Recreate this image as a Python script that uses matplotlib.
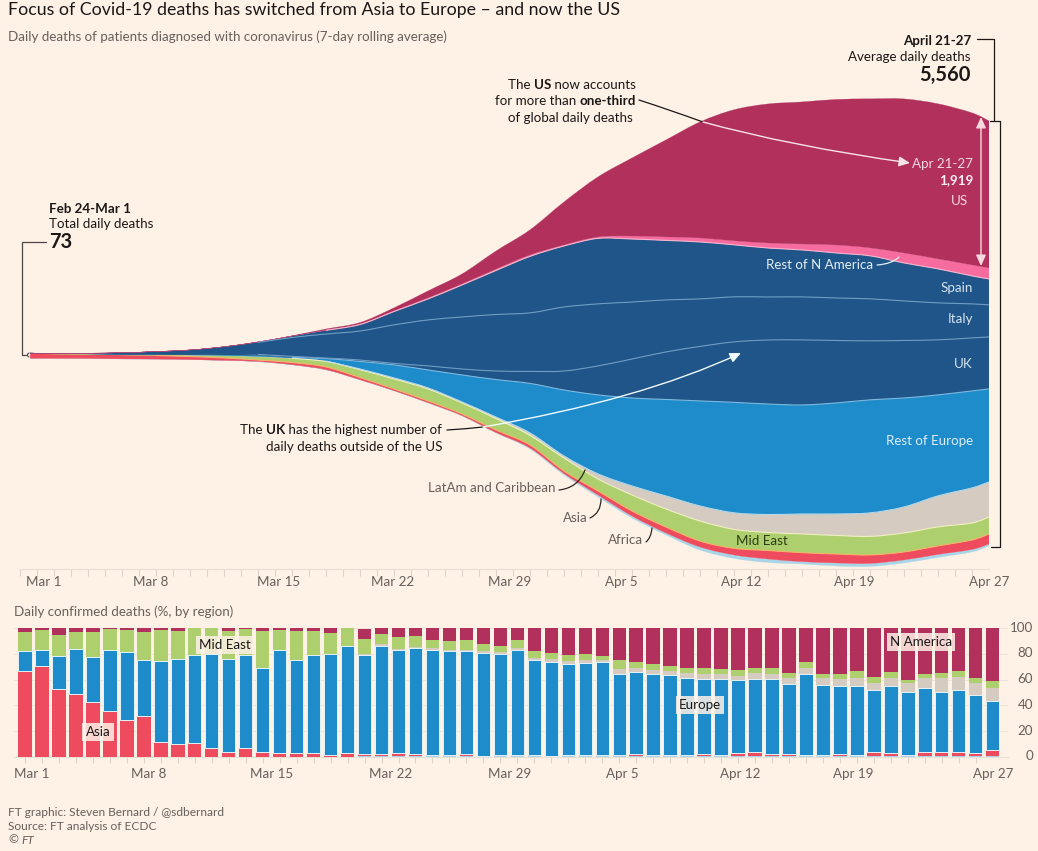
import numpy as np
import matplotlib
matplotlib.use('Agg')
import matplotlib.pyplot as plt
from matplotlib.patches import FancyArrowPatch, PathPatch
from matplotlib.path import Path
from matplotlib.transforms import ScaledTranslation

plt.rcParams['font.family'] = ['Lato', 'DejaVu Sans']

# stream chart: average daily deaths, every other day
stream_days = [0.6, 2, 4, 6, 8, 10, 12, 14, 16, 18, 20, 22, 24, 26, 28, 30, 32, 34, 36, 38, 40, 42, 44, 46, 48, 50, 52, 54, 56, 57]
africa = [1, 1, 1, 1, 1, 1, 1, 4, 4, 4, 4, 4, 4, 5, 6, 13, 19, 26, 26, 26, 39, 45, 45, 30, 39, 39, 39, 39, 32, 26]
asia = [62, 55, 50, 50, 46, 40, 32, 19, 28, 35, 28, 22, 22, 21, 32, 39, 32, 52, 65, 77, 77, 86, 110, 116, 116, 110, 103, 110, 123, 129]
mid_east = [5, 6, 8, 10, 12, 18, 31, 43, 54, 71, 101, 129, 155, 142, 148, 123, 168, 155, 206, 232, 258, 245, 232, 241, 239, 239, 245, 245, 219, 219]
latam = [0, 0, 0, 0, 1, 1, 1, 3, 4, 6, 9, 13, 13, 13, 19, 32, 26, 65, 116, 168, 194, 213, 232, 258, 277, 303, 335, 400, 452, 452]
rest_europe = [1, 1, 1, 1, 1, 4, 6, 13, 6, 32, 97, 168, 232, 348, 484, 639, 851, 1019, 1135, 1245, 1355, 1425, 1425, 1406, 1432, 1458, 1406, 1303, 1251, 1200]
uk = [0, 0, 0, 1, 3, 9, 13, 13, 15, 6, 19, 19, 52, 77, 110, 155, 245, 374, 503, 613, 703, 780, 826, 839, 806, 761, 742, 710, 684, 671]
italy = [1, 2, 8, 17, 34, 52, 91, 155, 243, 310, 374, 497, 593, 671, 729, 755, 826, 800, 735, 671, 613, 581, 555, 555, 548, 542, 510, 477, 439, 413]
spain = [0, 0, 1, 1, 1, 1, 3, 6, 19, 48, 84, 173, 271, 413, 568, 729, 787, 845, 813, 768, 735, 671, 632, 606, 581, 555, 490, 439, 361, 335]
rest_n_america = [0, 0, 0, 0, 0, 0, 0, 0, 1, 4, 6, 8, 13, 13, 19, 19, 13, 19, 39, 45, 52, 52, 65, 77, 103, 103, 129, 129, 142, 142]
us = [0, 0, 0, 0, 0, 0, 0, 0, 2, 13, 19, 39, 90, 129, 232, 323, 555, 774, 1006, 1251, 1496, 1690, 1793, 1832, 1877, 1922, 1987, 2000, 1961, 1896]
# lower edge of the stream
stream_floor = [-45, -45, -46, -52, -54, -61, -71, -88, -129, -194, -323, -464, -619, -787, -1006, -1213, -1548, -1832, -2103, -2322, -2516, -2625, -2677, -2696, -2722, -2728, -2683, -2612, -2541, -2464]

# bars: share of daily confirmed deaths, %
bar_africa = [0] * 20 + [0.5] * 15 + [1.0] + [0.5] * 22
bar_asia = [66.4, 70.8, 52.7, 48.8, 42.4, 35.7, 28.9, 32, 11.4, 10, 11, 6.7, 3.9, 7, 3.6, 2.8, 2.8, 3.4, 1.3, 2.8, 2, 1.5, 2.8, 2, 1, 1, 1.5, 0.5, 1, 0.8, 1, 0.5, 1, 1, 1, 0.3, 2, 1, 0.7, 0.7, 1.5, 1, 2.5, 3.5, 2, 1.8, 1, 1, 1.8, 1, 3, 2.5, 1, 3.5, 3, 3, 2.5, 5]
bar_europe = [15.5, 11.9, 25.3, 34.7, 35.4, 47, 52.8, 43, 63.3, 66.2, 67.8, 72.9, 71.8, 71.8, 65.7, 80.2, 72.4, 75.6, 78.3, 83, 76.3, 84.3, 79.4, 81.7, 81.7, 80.4, 79.9, 79.9, 78.3, 81.6, 73.7, 72.9, 70.3, 71.4, 72.1, 63.3, 63.1, 62.6, 62.1, 60.3, 58.7, 58.7, 56.4, 56.2, 58, 54, 63.1, 54.5, 52.5, 53.8, 48.4, 52.3, 48.6, 49.5, 46.6, 48.7, 45.3, 38.2]
bar_latam = [0] * 20 + [1.3, 1, 1, 1, 1, 1.2, 1, 1.3, 1.5, 1.5, 1.5, 2, 2.5, 2.3, 1.5, 3.5, 3.5, 3.6, 3.7, 3.8, 3.9, 4.4, 3.6, 4.9, 4.1, 4.9, 4.7, 5, 5.7, 6.2, 5.5, 6.2, 7.3, 7.5, 11.4, 9.8, 9.1, 9.8]
bar_mid_east = [15, 15.5, 16.8, 13.4, 19.1, 16.5, 16.7, 21.6, 23.7, 21.2, 21.2, 20.4, 21.7, 20.2, 28.1, 15.7, 22.2, 18.4, 16.4, 14.2, 11.6, 8.3, 9.1, 8.3, 6.2, 6.6, 7.8, 5.7, 5, 6, 5.2, 4.7, 5, 4.9, 3.5, 6.8, 4.8, 4.7, 3.8, 3.7, 4.7, 3.6, 4.7, 3.9, 4.1, 3.7, 4.6, 3.3, 3.8, 5.2, 4.9, 4.6, 2.5, 3.3, 3.6, 4.9, 3.8, 5.7]
bar_n_america = [3.1, 1.8, 5.2, 3.1, 3.1, 0.8, 1.6, 3.4, 1.6, 2.6, 0, 0, 2.6, 1, 2.6, 1.3, 2.6, 2.6, 4, 0, 7.8, 4.4, 7.2, 6.5, 9.6, 10.3, 9.3, 12.1, 13.7, 9.6, 18.1, 19.4, 20.7, 19.9, 21.4, 25.1, 26.1, 27.6, 29.2, 31, 30.7, 31.8, 32.3, 31, 31.3, 35.1, 26.1, 35.7, 35.7, 33.3, 37.7, 33.9, 40.1, 35.7, 34.9, 33.1, 38.8, 40.8]

tick_labels = ['Mar 1', 'Mar 8', 'Mar 15', 'Mar 22', 'Mar 29', 'Apr 5', 'Apr 12', 'Apr 19', 'Apr 27']
pct_ticks = [0, 20, 40, 60, 80, 100]

BG = '#FEF1E6'
GREY = '#66605C'
INK = '#1A1817'
C_US = '#B1305C'
C_PINK = '#F76C9E'
C_NAVY = '#1F5589'
C_BLUE = '#1E8BCB'
C_SAND = '#D6CBC0'
C_GREEN = '#ADCF6E'
C_RED = '#EF4B5E'
C_PALE = '#A9D5E8'
W, H = 1038, 851
TXT = 9.65

fig = plt.figure(figsize=(W / 100, H / 100), dpi=100, facecolor=BG)


def box(left, top, right, bottom):
    return [left / W, 1 - bottom / H, (right - left) / W, (bottom - top) / H]


def spline(x, y):
    # smooth bezier segments through the values, same idea as a d3 curve
    p = np.column_stack([x, y])
    tang = (np.vstack([p[1:], p[-1]]) - np.vstack([p[0], p[:-1]])) / 6
    return np.column_stack([p[:-1] + tang[:-1], p[1:] - tang[1:], p[1:]]).reshape(-1, 2)


def area_path(x, low, up):
    top = spline(x, up)
    bot = spline(x[::-1], low[::-1])
    verts = np.vstack([[x[0], up[0]], top, [x[-1], low[-1]], bot, [x[0], low[0]]])
    codes = [Path.MOVETO] + [Path.CURVE4] * len(top) + [Path.LINETO] + [Path.CURVE4] * len(bot) + [Path.CLOSEPOLY]
    return Path(verts, codes)


# ---- stream ----
ax = fig.add_axes(box(20, 60, 989, 569), facecolor='none')
x_stream = np.array(stream_days, dtype=float)
series = [africa, asia, mid_east, latam, rest_europe, uk, italy, spain, rest_n_america, us]
colors = [C_PALE, C_RED, C_GREEN, C_SAND, C_BLUE, C_NAVY, C_NAVY, C_NAVY, C_PINK, C_US]
lower = np.array(stream_floor, dtype=float)
edges = []
for vals, col in zip(series, colors):
    upper = lower + np.array(vals)
    ax.add_patch(PathPatch(area_path(x_stream, lower, upper), fc=col, ec=col, lw=0.2))
    edges.append(upper)
    lower = upper

# thin separators, left out where the bands are too narrow to show them
edge_styles = {1: ('#F5B26B', 8), 2: ('#EFEFC0', 16), 3: ('#B5D8EA', 18), 4: ('#7DB9DF', 16),
               5: ('#6E9CC4', 14), 6: ('#6E9CC4', 14), 7: ('#F3B5CC', 18)}
for i, (col, first) in edge_styles.items():
    keep = x_stream >= first
    xs, ys = x_stream[keep], edges[i][keep]
    verts = np.vstack([[xs[0], ys[0]], spline(xs, ys)])
    codes = [Path.MOVETO] + [Path.CURVE4] * (len(verts) - 1)
    ax.add_patch(PathPatch(Path(verts, codes), fc='none', ec=col, lw=0.8))
ax.set_xlim(0, 57)
ax.set_ylim(-2761, 3805)
for s in ax.spines.values():
    s.set_visible(False)
ax.spines['bottom'].set_visible(True)
ax.spines['bottom'].set_color('#EADFD5')
ax.set_yticks([])
ax.set_xticks(np.arange(0, 58), minor=True)
ax.tick_params(axis='x', which='minor', length=5, color='#DDD3C9', width=0.8)
ax.set_xticks([1.4, 7.7, 15.2, 21.9, 28.8, 35.4, 42.4, 49.1, 57])
ax.set_xticklabels(tick_labels)
ax.tick_params(axis='x', which='major', length=0, pad=5, labelcolor=GREY, labelsize=TXT)

# ---- bars ----
bx = fig.add_axes(box(14, 628, 1008, 757), facecolor='none')
days = np.arange(58)
bottom = np.zeros(58)
bar_series = [bar_africa, bar_asia, bar_europe, bar_latam, bar_mid_east, bar_n_america]
bar_colors = [C_PALE, C_RED, C_BLUE, C_SAND, C_GREEN, C_US]
bar_edges = ['none', 'none', '#E3F3F8', 'none', 'none', 'none']
for vals, col, edge in zip(bar_series, bar_colors, bar_edges):
    bx.bar(days, vals, bottom=bottom, width=0.79, color=col, edgecolor=edge, lw=0.7, zorder=3)
    bottom = bottom + np.array(vals)
bx.set_xlim(-0.648, 57.9)
bx.set_ylim(0, 100)
for s in bx.spines.values():
    s.set_visible(False)
bx.spines['bottom'].set_visible(True)
bx.spines['bottom'].set_color('#EADFD5')
bx.yaxis.tick_right()
bx.set_yticks(pct_ticks)
bx.grid(axis='y', color='#EDE3D9', lw=0.7, zorder=0)
bx.tick_params(axis='y', length=0, pad=18, labelcolor=GREY, labelsize=TXT)
for lab in bx.get_yticklabels():
    lab.set_ha('right')
    lab.set_transform(lab.get_transform() + ScaledTranslation(0, 1.5 / 100, fig.dpi_scale_trans))
bx.set_xticks(days, minor=True)
bx.tick_params(axis='x', which='minor', length=4, color='#DDD3C9', width=0.8)
bx.set_xticks([0.41, 7.3, 14.55, 21.56, 28.57, 35.17, 42.12, 48.78, 57])
bx.set_xticklabels(tick_labels)
bx.tick_params(axis='x', which='major', length=0, pad=8, labelcolor=GREY, labelsize=TXT)

# ---- annotations, drawn on an overlay in picture pixels ----
ov = fig.add_axes([0, 0, 1, 1], facecolor='none')
ov.set_xlim(0, W)
ov.set_ylim(H, 0)
ov.axis('off')


def label(x, y, s, ha='left', color=INK, size=TXT, weight='normal', **kw):
    return ov.text(x, y, s, ha=ha, va='center', color=color, fontsize=size, fontweight=weight, **kw)


def mixed(right, y, parts, color=INK, size=TXT):
    # text with bold words, laid out leftwards from the right edge
    rend = fig.canvas.get_renderer()
    x = right
    for s, weight in reversed(parts):
        t = label(x, y, s.replace(' ', '\u00a0'), ha='right', color=color, size=size, weight=weight)
        x -= t.get_window_extent(rend).width


def curve(pts, color=INK, lw=0.9, arrow=False):
    codes = [Path.MOVETO] + [Path.CURVE3 if len(pts) == 3 else Path.LINETO] * (len(pts) - 1)
    style = '-|>,head_length=0.55,head_width=0.25' if arrow else '-'
    ov.add_patch(FancyArrowPatch(path=Path(pts, codes), arrowstyle=style, mutation_scale=12,
                                 color=color, lw=lw, zorder=6))


label(8, 10, 'Focus of Covid-19 deaths has switched from Asia to Europe \u2013 and now the US', size=12.75, color=INK)
label(8, 37, 'Daily deaths of patients diagnosed with coronavirus (7-day rolling average)', color=GREY)

# top right total
label(971, 41, 'April 21-27', ha='right', weight='bold')
label(971, 57, 'Average daily deaths', ha='right')
label(971, 75, '5,560', ha='right', weight='bold', size=14.5)
curve([(977, 39), (994, 39), (994, 121), (1000, 121), (1000, 547), (991, 547)], lw=0.9)
curve([(990, 121), (994, 121)], lw=0.9)

# left total
label(49, 209, 'Feb 24-Mar 1', weight='bold')
label(49, 224, 'Total daily deaths')
label(49, 242, '73', weight='bold', size=14.5)
curve([(46, 242), (22, 242), (22, 355), (26, 355)], color='#4D4845', lw=0.9)
curve([(29, 353), (25.5, 355), (29, 357)], color='#4D4845', lw=0.8)

# US note
mixed(636, 85, [('The ', 'normal'), ('US', 'bold'), (' now accounts', 'normal')])
mixed(636, 101, [('for more than ', 'normal'), ('one-third', 'bold')])
mixed(633, 118, [('of global daily deaths', 'normal')])
curve([(639, 100), (670, 110), (703, 122)])
curve([(703, 122), (790, 146), (910, 163)], color='#F9E3E8', lw=1.0, arrow=True)
label(973, 164, 'Apr 21-27', ha='right', color='#F6D9E1')
label(973, 180, '1,919', ha='right', color='#FBEDF0', weight='bold')
label(968, 201, 'US', ha='right', color='#F6D9E1')
ov.add_patch(FancyArrowPatch((981, 117), (981, 266), arrowstyle='<|-|>,head_length=0.55,head_width=0.25',
                             mutation_scale=12, color='#F6D9E1', lw=1.0, shrinkA=0, shrinkB=0, zorder=6))

# labels on the stream
label(873, 265, 'Rest of N America', ha='right', color='#E4EEF6')
curve([(877, 265), (892, 264), (899, 257)], color='#E4EEF6', lw=0.9)
label(973, 288, 'Spain', ha='right', color='#D5E3F0')
label(973, 319, 'Italy', ha='right', color='#D5E3F0')
label(973, 364, 'UK', ha='right', color='#D5E3F0')
label(973, 441, 'Rest of Europe', ha='right', color='#DCEEF8')
label(762, 541, 'Mid East', ha='center', color='#2E3A14')

# UK note
mixed(442, 430, [('The ', 'normal'), ('UK', 'bold'), (' has the highest number of', 'normal')])
mixed(442, 447, [('daily deaths outside of the US', 'normal')])
curve([(447, 430), (465, 429), (483, 427)])
curve([(483, 427), (640, 400), (741, 353)], color='#F2FAFD', lw=1.0, arrow=True)

label(555, 488, 'LatAm and Caribbean', ha='right', color=GREY)
curve([(559, 490), (578, 488), (585, 470)], color='#2B2826')
label(588, 518, 'Asia', ha='right', color=GREY)
curve([(590, 518), (601, 513), (601, 499)], color='#2B2826')
label(643, 540, 'Africa', ha='right', color=GREY)
curve([(646, 542), (651, 538), (652, 528)], color='#2B2826')

# bar labels
label(14, 612, 'Daily confirmed deaths (%, by region)', color=GREY)
tag = dict(facecolor=BG, alpha=0.85, edgecolor='none', boxstyle='square,pad=0.25')
label(225, 645, 'Mid East', ha='center', bbox=tag, zorder=7)
label(98, 732, 'Asia', ha='center', bbox=tag, zorder=7)
label(700, 705, 'Europe', ha='center', bbox=tag, zorder=7)
label(921, 642, 'N America', ha='center', bbox=tag, zorder=7)

# footer
label(8, 813, 'FT graphic: Steven Bernard / @sdbernard', color=GREY, size=8.6)
label(8, 827, 'Source: FT analysis of ECDC', color=GREY, size=8.6)
label(8, 840, '\u00a9', color=GREY, size=8.6)
label(21, 840, 'FT', color=GREY, size=8.6, style='italic')

fig.savefig('out.png', dpi=100, facecolor=BG)
